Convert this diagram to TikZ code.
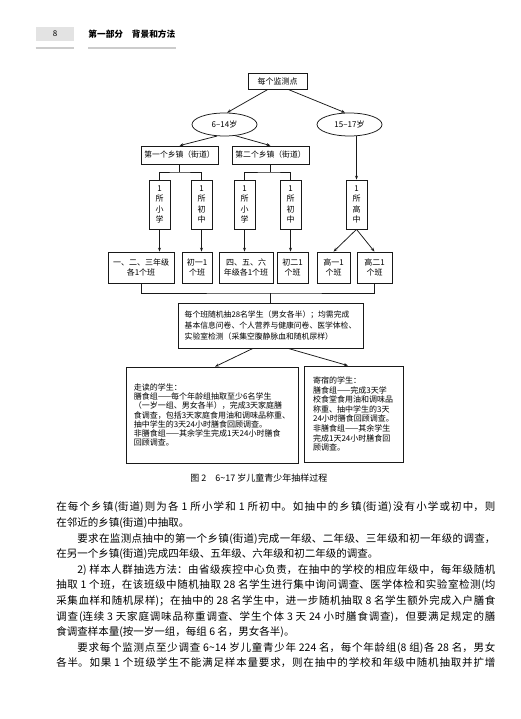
\documentclass[tikz,border=0pt]{standalone}
\usepackage{fontspec}
\setmainfont{Noto Sans CJK SC}
\usetikzlibrary{shapes.geometric,arrows.meta}
\XeTeXlinebreaklocale "zh"
\XeTeXlinebreakskip=0pt plus 2pt minus 0.5pt
% one justified line of body text
\newcommand{\fullline}[1]{\parbox[b]{439pt}{\parfillskip=0pt\relax #1}}
\begin{document}
\begin{tikzpicture}[x=1pt, y=-1pt, line width=0.75pt, draw=black!90,
  every node/.style={inner sep=0pt, text=black, font=\fontsize{8}{9.5}\selectfont},
  box/.style={draw=black!90, rectangle, line width=0.75pt, align=center},
  oval/.style={draw=black!90, ellipse, line width=0.75pt, minimum width=65pt, minimum height=23pt},
  school/.style={box, minimum width=21pt, minimum height=49pt, font=\fontsize{8}{10.6}\selectfont},
  class/.style={box, minimum height=31pt, font=\fontsize{8}{10.5}\selectfont},
  body/.style={anchor=base west, text=black, font=\fontsize{10.5}{15.6}\selectfont},
  >={Stealth[length=4pt,width=3pt]}]
	\useasboundingbox (0,0) rectangle (520,719);
	\fill[white] (0,0) rectangle (520,719);

	% page head
	\node (pgno) at (55,34) [fill=gray!22, minimum width=38pt, minimum height=14pt, font=\fontsize{8}{8}\selectfont] {8};
	\node (part) at (88,34) [anchor=west, font=\fontsize{8.7}{9}\selectfont\bfseries] {第一部分\quad 背景和方法};
	\draw[gray!40, line width=1.2pt] (pgno.west |- 0,48) -- (pgno.east |- 0,48);
	\draw[gray!40, line width=1.2pt] (part.west |- 0,48) -- (part.east |- 0,48);

	% flow chart
	\node (top) at (277.5,81) [box, minimum width=59pt, minimum height=16pt] {每个监测点};
	\node (age1) at (224.5,124.5) [oval] {6–14岁};
	\node (age2) at (349.5,124.5) [oval] {15–17岁};
	\node (town1) at (179.5,155) [box, minimum width=77pt, minimum height=18pt, font=\fontsize{7.8}{9}\selectfont] {第一个乡镇（街道）};
	\node (town2) at (270.5,155) [box, minimum width=77pt, minimum height=18pt, font=\fontsize{7.8}{9}\selectfont] {第二个乡镇（街道）};
	\node (pri1) at (159.5,204.5) [school] {1\\所\\小\\学};
	\node (mid1) at (201.5,204.5) [school] {1\\所\\初\\中};
	\node (pri2) at (244.5,204.5) [school] {1\\所\\小\\学};
	\node (mid2) at (290.5,204.5) [school] {1\\所\\初\\中};
	\node (high) at (356.5,204.5) [school] {1\\所\\高\\中};
	\node (cls1) at (141,267.5) [class, minimum width=66pt] {一、二、三年级\\各1个班};
	\node (cls2) at (197,267.5) [class, minimum width=30pt] {初一1\\个班};
	\node (cls3) at (246,267.5) [class, minimum width=54pt] {四、五、六\\年级各1个班};
	\node (cls4) at (292.5,267.5) [class, minimum width=31pt] {初二1\\个班};
	\node (cls5) at (333.5,267.5) [class, minimum width=33pt] {高一1\\个班};
	\node (cls6) at (374.5,267.5) [class, minimum width=35pt] {高二1\\个班};
	\node (all) at (270.5,325.5) [box, minimum width=185pt, minimum height=45pt, align=left, font=\fontsize{7.8}{11}\selectfont] {每个班随机抽28名学生（男女各半）；均需完成\\基本信息问卷、个人营养与健康问卷、医学体检、\\实验室检测（采集空腹静脉血和随机尿样）};
	\node (walk) at (212,415) [box, minimum width=172pt, minimum height=96pt, align=left, font=\fontsize{8}{9.3}\selectfont] {走读的学生：\\膳食组——每个年龄组抽取至少6名学生\\（一岁一组、男女各半），完成3天家庭膳\\食调查，包括3天家庭食用油和调味品称重、\\抽中学生的3天24小时膳食回顾调查。\\非膳食组——其余学生完成1天24小时膳食\\回顾调查。};
	\node (board) at (353.5,414) [box, minimum width=99pt, minimum height=96pt, align=left, font=\fontsize{8}{9.6}\selectfont] {寄宿的学生：\\膳食组——完成3天学\\校食堂食用油和调味品\\称重、抽中学生的3天\\24小时膳食回顾调查。\\非膳食组——其余学生\\完成1天24小时膳食回\\顾调查。};
	\coordinate (fork1) at (179.5,172);
	\coordinate (fork2) at (270.5,172);
	\coordinate (join) at (270.5,293);

	\draw[->] ([xshift=-9.5pt]top.south) to (age1.78);
	\draw[->] ([xshift=10.5pt]top.south) to (age2.110);
	\draw[->] (age1.237) to (town1.north);
	\draw[->] (age1.314) to (town2.north);
	\draw[->] (high.north |- age2.south) to (high.north);
	\draw (town1.south) to (fork1);
	\draw (pri1.north) |- (fork1) -| (mid1.north);
	\draw (town2.south) to (fork2);
	\draw (pri2.north) |- (fork2) -| (mid2.north);
	\draw[->] (pri1.south) to (pri1.south |- cls1.north);
	\draw[->] (mid1.south) to (mid1.south |- cls2.north);
	\draw[->] (pri2.south) to (pri2.south |- cls3.north);
	\draw[->] (mid2.south) to (mid2.south |- cls4.north);
	\draw[->] (high.south) to (cls5.north);
	\draw[->] (high.south) to (cls6.north);
	\draw (cls1.south) |- (join) -| (cls6.south);
	\draw (join) to (all.north);
	\draw[->] ([xshift=-17.5pt]all.south) to ([xshift=3pt]walk.north);
	\draw[->] ([xshift=17.5pt]all.south) to ([xshift=-5.5pt]board.north);
	\node (cap) at (190,478) [anchor=west, font=\fontsize{9}{9}\selectfont] {图 2\quad 6\textasciitilde 17 岁儿童青少年抽样过程};

	% body text
	\node (l1) at (56,510.8) [body] {\fullline{在每个乡镇(街道)则为各 1 所小学和 1 所初中。如抽中的乡镇(街道)没有小学或初中，则}};
	\node (l2) at (56,526.4) [body] {在邻近的乡镇(街道)中抽取。};
	\node (l3) at (56,542) [body] {\fullline{\hspace*{2em}要求在监测点抽中的第一个乡镇(街道)完成一年级、二年级、三年级和初一年级的调查，}};
	\node (l4) at (56,557.6) [body] {在另一个乡镇(街道)完成四年级、五年级、六年级和初二年级的调查。};
	\node (l5) at (56,573.2) [body] {\fullline{\hspace*{2em}2) 样本人群抽选方法：由省级疾控中心负责，在抽中的学校的相应年级中，每年级随机}};
	\node (l6) at (56,588.8) [body] {\fullline{抽取 1 个班，在该班级中随机抽取 28 名学生进行集中询问调查、医学体检和实验室检测(均}};
	\node (l7) at (56,604.4) [body] {\fullline{采集血样和随机尿样)；在抽中的 28 名学生中，进一步随机抽取 8 名学生额外完成入户膳食}};
	\node (l8) at (56,620) [body] {\fullline{调查(连续 3 天家庭调味品称重调查、学生个体 3 天 24 小时膳食调查)，但要满足规定的膳}};
	\node (l9) at (56,635.6) [body] {食调查样本量(按一岁一组，每组 6 名，男女各半)。};
	\node (l10) at (56,651.2) [body] {\fullline{\hspace*{2em}要求每个监测点至少调查 6\textasciitilde 14 岁儿童青少年 224 名，每个年龄组(8 组)各 28 名，男女}};
	\node (l11) at (56,666.8) [body] {\fullline{各半。如果 1 个班级学生不能满足样本量要求，则在抽中的学校和年级中随机抽取并扩增}};
\end{tikzpicture}
\end{document}
